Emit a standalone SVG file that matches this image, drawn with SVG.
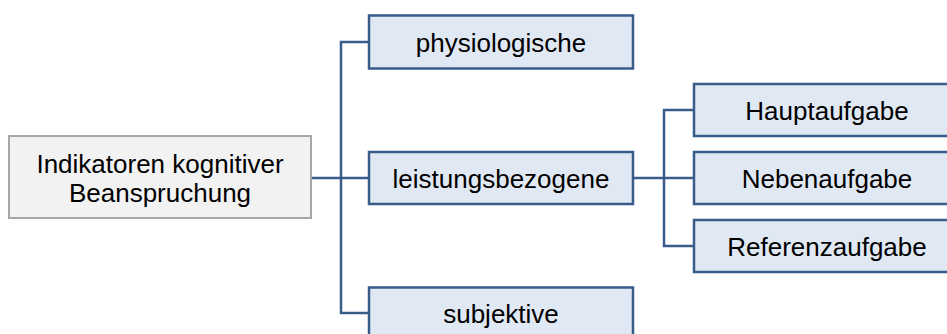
<svg xmlns="http://www.w3.org/2000/svg" width="947" height="334" viewBox="0 0 947 334">
  <style>
    .root { fill: #f2f2f2; stroke: #a6a6a6; stroke-width: 2; }
    .box { fill: #e0e8f3; stroke: #385d8a; stroke-width: 2.5; }
    .lbl { font-family: "Liberation Sans", Arial, sans-serif; font-size: 26px; fill: #000; text-anchor: middle; }
    .conn { fill: none; stroke: #385d8a; stroke-width: 2.5; }
  </style>
  <rect width="947" height="334" fill="#fff"/>

  <g id="connectors">
    <!-- root to first level -->
    <path class="conn" d="M311 178 H369"/>
    <path class="conn" d="M369 42 H341 V313 H369"/>
    <!-- second level -->
    <path class="conn" d="M633 178 H694"/>
    <path class="conn" d="M694 110 H664 V246 H694"/>
  </g>

  <g id="root">
    <rect class="root" x="9" y="136" width="302" height="82"/>
    <text class="lbl" x="160" y="173">Indikatoren kognitiver</text>
    <text class="lbl" x="160" y="202">Beanspruchung</text>
  </g>

  <g id="physiologische">
    <rect class="box" x="369" y="15.5" width="264" height="53"/>
    <text class="lbl" x="501" y="52">physiologische</text>
  </g>

  <g id="leistungsbezogene">
    <rect class="box" x="369" y="152" width="264" height="52"/>
    <text class="lbl" x="501" y="188">leistungsbezogene</text>
  </g>

  <g id="subjektive">
    <rect class="box" x="369" y="287.5" width="264" height="53"/>
    <text class="lbl" x="501" y="323">subjektive</text>
  </g>

  <g id="hauptaufgabe">
    <rect class="box" x="694" y="84" width="270" height="52"/>
    <text class="lbl" x="827" y="120">Hauptaufgabe</text>
  </g>

  <g id="nebenaufgabe">
    <rect class="box" x="694" y="152" width="270" height="52"/>
    <text class="lbl" x="827" y="188">Nebenaufgabe</text>
  </g>

  <g id="referenzaufgabe">
    <rect class="box" x="694" y="220" width="270" height="52"/>
    <text class="lbl" x="827" y="256">Referenzaufgabe</text>
  </g>
</svg>
